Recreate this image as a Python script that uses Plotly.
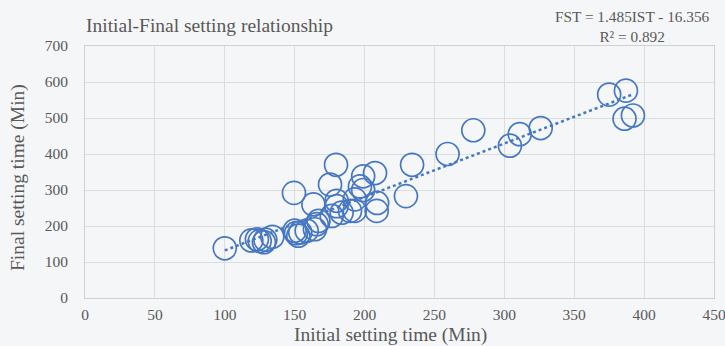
import plotly.graph_objects as go

initial_time = [100, 119, 123, 125, 128, 129, 134, 149.5, 150, 151, 152.6, 154, 158.6,
                164.5, 165.8, 167, 163.4, 175.3, 179.6, 176.5, 180, 180, 183.6, 189.6,
                193, 193, 196.7, 199, 199, 207.5, 208.7, 209, 229.6, 234, 259.4, 277.8,
                304, 311, 326, 375, 387, 386, 392]
final_time = [138, 160, 163, 158, 155, 162, 170, 292, 187, 180, 173, 182, 187,
              191, 205, 214, 260, 315, 370, 228, 255, 270, 237, 242,
              274, 242, 310, 338, 300, 347, 242, 264, 283, 370, 400, 466,
              423, 455, 472, 565, 576, 498, 507]

slope = 1.485
intercept = -16.356
r_squared = 0.892

x_ticks = list(range(0, 451, 50))
y_ticks = list(range(0, 701, 100))

blue = "#4677C2"
grey_text = "#595959"
font_family = "Liberation Serif, Times New Roman, serif"

W, H = 725, 346
L, R, T, B = 85, 11, 46, 48
PW, PH = W - L - R, H - T - B


def px_x(px):
    return (px - L) / PW


def px_y(py):
    return (H - B - py) / PH


trend_x = [min(initial_time), max(initial_time)]
trend_y = [slope * v + intercept for v in trend_x]

fig = go.Figure()
fig.add_trace(go.Scatter(
    x=trend_x, y=trend_y, mode="lines",
    line=dict(color=blue, width=2.5, dash="dot"),
    hoverinfo="skip", showlegend=False,
))
fig.add_trace(go.Scatter(
    x=initial_time, y=final_time, mode="markers",
    marker=dict(symbol="circle-open", size=23, color=blue, line=dict(width=1.7, color=blue)),
    showlegend=False,
))

fig.update_layout(
    width=W, height=H,
    margin=dict(l=L, r=R, t=T, b=B),
    paper_bgcolor="#F5F6F7",
    plot_bgcolor="#F5F6F7",
    font=dict(family=font_family, color=grey_text, size=15),
    xaxis=dict(
        range=[0, 450], tickvals=x_ticks, showgrid=True, gridcolor="#DCDDDE", gridwidth=1,
        zeroline=False, showline=True, linecolor="#D0D1D2", mirror=True, linewidth=1,
        ticks="", ticklabelstandoff=2, automargin=False, ticklabeloverflow="allow",
        tickfont=dict(size=15.5, color=grey_text),
    ),
    yaxis=dict(
        range=[0, 700], tickvals=y_ticks, showgrid=True, gridcolor="#DCDDDE", gridwidth=1,
        zeroline=False, showline=True, linecolor="#D0D1D2", mirror=True, linewidth=1,
        ticks="", ticklabelstandoff=13, automargin=False,
        tickfont=dict(size=15.5, color=grey_text),
    ),
    annotations=[
        dict(text="Initial-Final setting relationship", xref="paper", yref="paper",
             x=px_x(84), y=px_y(25), xanchor="left", yanchor="middle", showarrow=False,
             font=dict(size=19.5, color=grey_text)),
        dict(text=f"FST = {slope}IST - {abs(intercept)}<br>R² = {r_squared}",
             xref="paper", yref="paper", x=px_x(712), y=px_y(26),
             xanchor="right", yanchor="middle", align="center", showarrow=False,
             font=dict(size=15.3, color=grey_text)),
        dict(text="Initial setting time (Min)", xref="paper", yref="paper",
             x=px_x(390), y=px_y(335), xanchor="center", yanchor="middle", showarrow=False,
             font=dict(size=19.5, color=grey_text)),
        dict(text="Final setting time (Min)", xref="paper", yref="paper",
             x=px_x(18), y=px_y(178), xanchor="center", yanchor="middle", showarrow=False,
             textangle=-90, font=dict(size=19.5, color=grey_text)),
    ],
)

fig.write_html(
    "out.html",
    config={"displayModeBar": False},
    post_script="document.body.style.margin='0';document.body.style.padding='0';"
                "document.documentElement.style.overflow='hidden';",
)
